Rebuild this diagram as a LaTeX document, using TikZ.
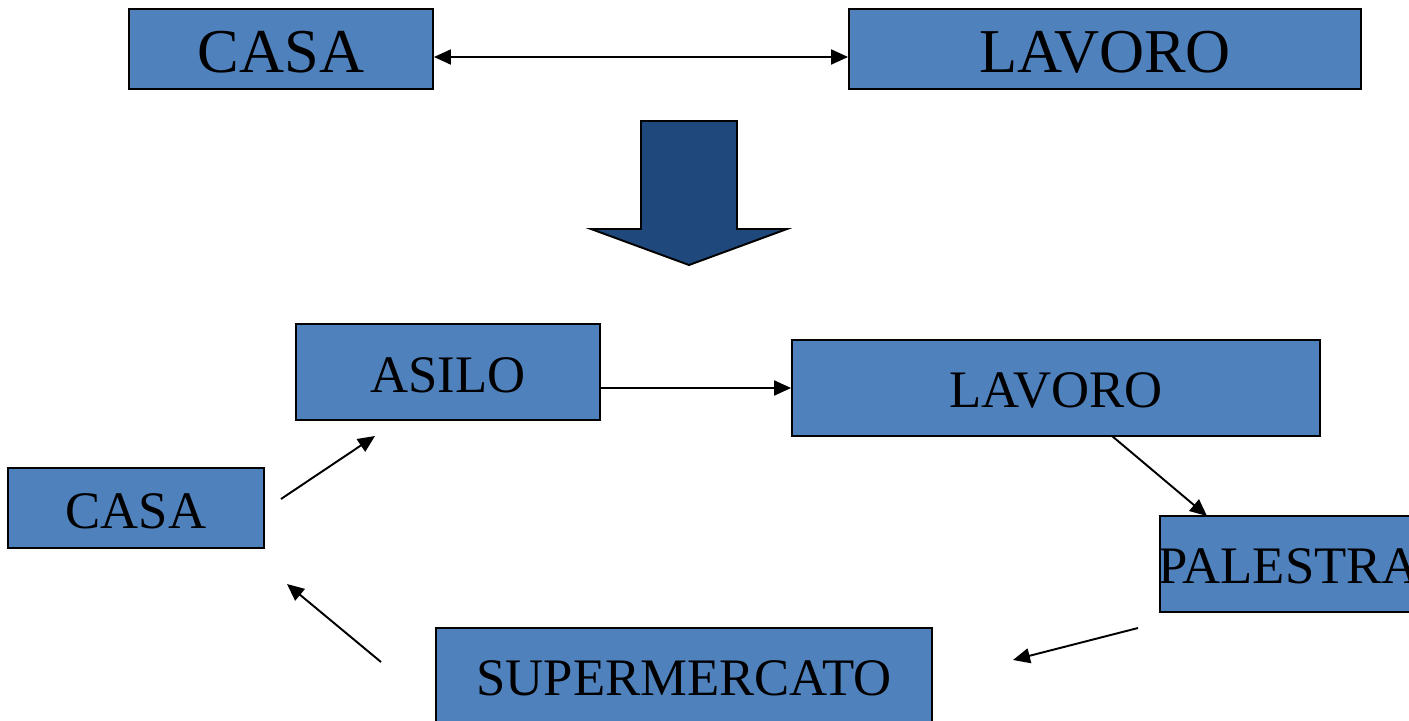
\documentclass[tikz,border=0pt]{standalone}
\usepackage{fontspec}
\setmainfont{Liberation Serif}
\usetikzlibrary{arrows.meta}

\definecolor{boxblue}{HTML}{4F81BD}
\definecolor{bigblue}{HTML}{1F497D}

\tikzset{
    place/.style={draw, fill=boxblue, line width=1.1pt, inner sep=0pt},
    bigtext/.style={font=\fontsize{35.5}{40}\selectfont},
    smalltext/.style={font=\fontsize{30}{34}\selectfont},
    tip/.style={Triangle[length=0.34cm,width=0.3cm]},
    link/.style={line width=1.1pt, -{Triangle[length=0.34cm,width=0.3cm]}}
}

\begin{document}
\begin{tikzpicture}[x=0.02cm,y=-0.02cm]

\useasboundingbox (0,0) rectangle (1409,720);

% Top row
\node[place,
    minimum width=6.08cm,
    minimum height=1.6cm] (casaTop) at (281,49) {};
\node[bigtext] at (281,52) {CASA};
\node[place,
    minimum width=10.24cm,
    minimum height=1.6cm] (lavoroTop) at (1105,49) {};
\node[bigtext] at (1105,52) {LAVORO};
\draw[link, {Triangle[length=0.34cm,width=0.3cm]}-{Triangle[length=0.34cm,width=0.3cm]}]
    ([yshift=-0.16cm]casaTop.east) -- ([yshift=-0.16cm]lavoroTop.west);

% Big down arrow
\draw[fill=bigblue, line width=1.1pt] (641,121) -- (737,121) -- (737,229)
    -- (787,229) -- (689,265) -- (591,229) -- (641,229) -- cycle;

% Bottom cycle
\node[place,
    minimum width=6.08cm,
    minimum height=1.92cm] (asilo) at (448,372) {};
\node[smalltext] at (448,375) {ASILO};
\node[place,
    minimum width=10.56cm,
    minimum height=1.92cm] (lavoro) at (1056,388) {};
\node[smalltext] at (1056,390) {LAVORO};
\node[place,
    minimum width=5.12cm,
    minimum height=1.6cm] (casa) at (136,508) {};
\node[smalltext] at (136,511) {CASA};
\node[place,
    minimum width=5.24cm,
    minimum height=1.92cm] (palestra) at (1291,564) {};
\node[smalltext] (palestraText) at (1289,566) {PALESTRA};
\node[place,
    minimum width=9.92cm,
    minimum height=1.92cm] (super) at (684,676) {};
\node[smalltext] at (684,678) {SUPERMERCATO};

% Free ends of the connectors
\coordinate (casaOut) at (281,499);
\coordinate (asiloIn) at (375,436);
\coordinate (lavoroOut) at (1112,436);
\coordinate (palestraIn) at (1207,516);
\coordinate (palestraOut) at (1138,628);
\coordinate (superIn) at (1013,660);
\coordinate (superOut) at (381,662);
\coordinate (casaIn) at (287,584);

\draw[link] (casaOut) -- (asiloIn);
\draw[link] (asilo.east |- lavoro.west) -- (lavoro.west);
\draw[link] (lavoroOut) -- (palestraIn);
\draw[link] (palestraOut) -- (superIn);
\draw[link] (superOut) -- (casaIn);

\end{tikzpicture}
\end{document}
